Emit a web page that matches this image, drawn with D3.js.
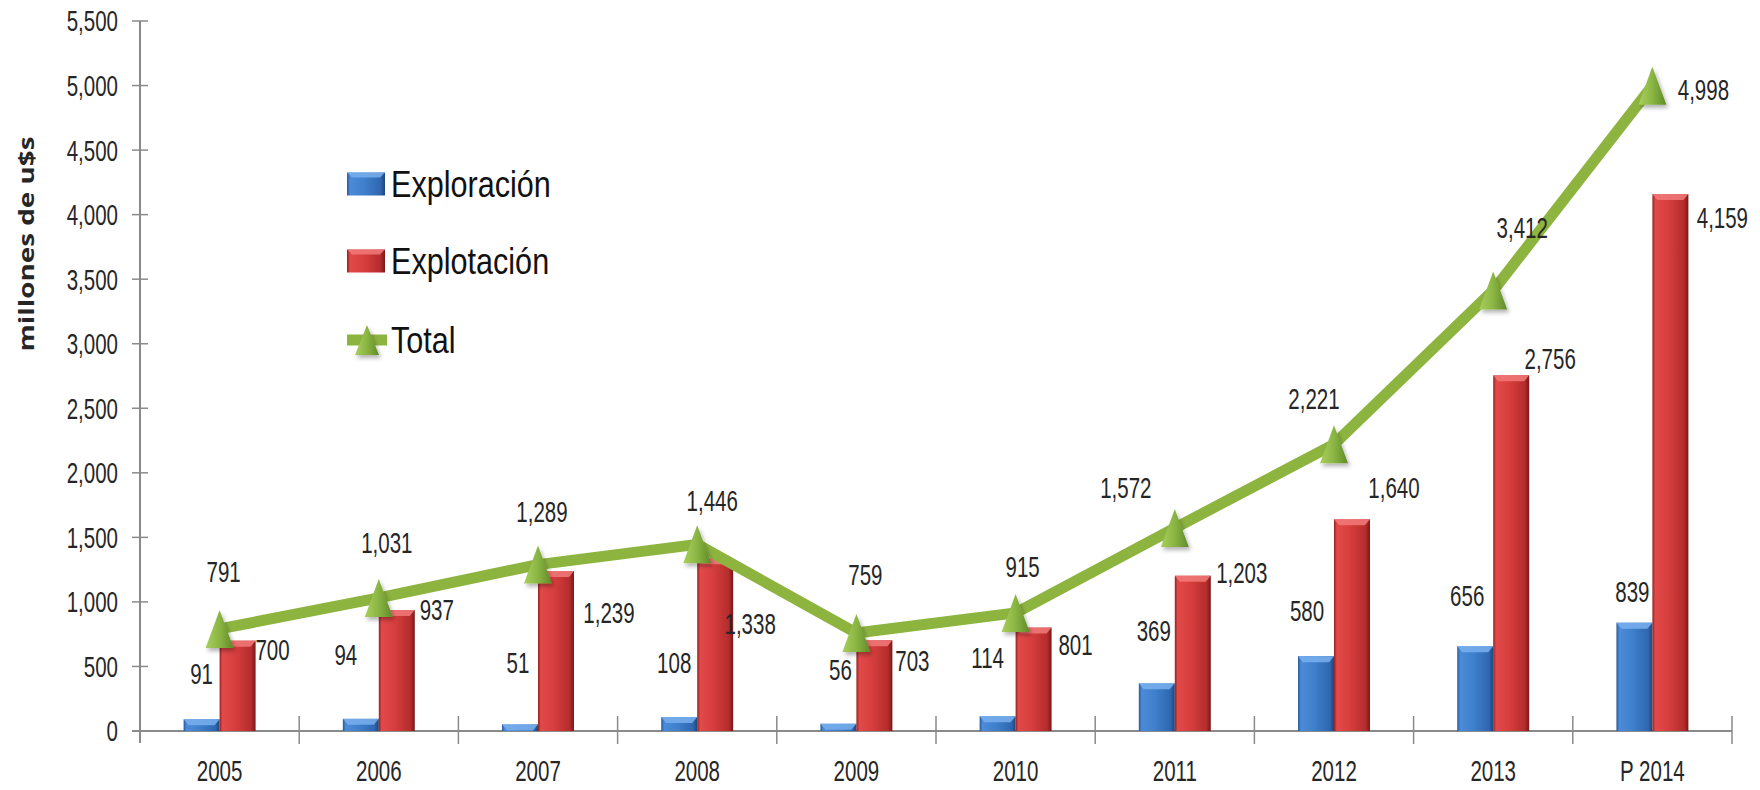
<!DOCTYPE html>
<html>
<head>
<meta charset="utf-8">
<script src="https://cdn.jsdelivr.net/npm/d3@7/dist/d3.min.js"></script>
<style>
  html, body { margin: 0; padding: 0; background: #ffffff; }
  svg { display: block; }
</style>
</head>
<body>
<svg id="chart" width="1760" height="790"></svg>
<script>
// Inversión en exploración y explotación (millones de u$s)
const categories  = ["2005", "2006", "2007", "2008", "2009", "2010", "2011", "2012", "2013", "P 2014"];
const exploracion = [91, 94, 51, 108, 56, 114, 369, 580, 656, 839];
const explotacion = [700, 937, 1239, 1338, 703, 801, 1203, 1640, 2756, 4159];
const total       = [791, 1031, 1289, 1446, 759, 915, 1572, 2221, 3412, 4998];
const yTickValues = [0, 500, 1000, 1500, 2000, 2500, 3000, 3500, 4000, 4500, 5000, 5500];
const seriesNames = ["Exploración", "Explotación", "Total"];

// hand-placed label offsets (px) from each mark's anchor
const blueLabelNudge  = [[0,-46],[-15,-64],[-2,-62],[-5,-55],[2,-54],[-10,-59],[-3,-53],[-9,-46],[-8,-51],[-2,-31]];
const redLabelNudge   = [[17,9],[22,0],[35,41],[17,65],[20,20],[24,17],[31,-3],[24,-32],[21,-17],[34,23]];
const totalLabelNudge = [[4,-57],[8,-55],[4,-53],[15,-44],[9,-58],[7,-46],[-49,-41],[-20,-46],[29,-63],[51,4]];

const fmt = d3.format(",");
const svg = d3.select("#chart");

const plot = { left: 140, right: 1732, top: 21, bottom: 731 };

const x0 = d3.scaleBand().domain(categories)
  .range([plot.left, plot.right]).paddingInner(0.548).paddingOuter(0.274);
const x1 = d3.scaleBand().domain(["exp", "xpl"]).range([0, x0.bandwidth()]);
const y = d3.scaleLinear().domain([0, 5500]).range([plot.bottom, plot.top]);
const center = c => x0(c) + x0.bandwidth() / 2;

// ---------- defs: gradients & shadow ----------
const defs = svg.append("defs");
function hGrad(id, stops) {
  const g = defs.append("linearGradient").attr("id", id).attr("x1", "0").attr("x2", "1").attr("y1", "0").attr("y2", "0");
  stops.forEach(([o, c]) => g.append("stop").attr("offset", o).attr("stop-color", c));
}
hGrad("gBlue", [[0, "#2a5896"], [0.08, "#4b8bd8"], [0.45, "#3f7fcc"], [0.88, "#2f67b0"], [1, "#1f4678"]]);
hGrad("gRed",  [[0, "#952020"], [0.08, "#e24a4a"], [0.45, "#d63d3d"], [0.88, "#b42c2c"], [1, "#781818"]]);
hGrad("gTri",  [[0, "#a9cf5c"], [0.5, "#8ab543"], [1, "#5f8a28"]]);
const sh = defs.append("filter").attr("id", "shadow").attr("x", "-50%").attr("y", "-50%").attr("width", "200%").attr("height", "200%");
sh.append("feDropShadow").attr("dx", 2).attr("dy", 3).attr("stdDeviation", 2).attr("flood-color", "#000").attr("flood-opacity", 0.3);

// text helper: Arial-metric face squeezed horizontally and stretched vertically
function label(parent, str, x, yy, o = {}) {
  const size = o.size || 25, sx = o.sx || 0.82, sy = o.sy || 1.16;
  const g = parent.append("g").attr("transform", `translate(${x},${yy}) scale(${sx},${sy})`);
  g.append("text")
    .attr("text-anchor", o.anchor || "middle")
    .attr("dy", o.dy == null ? "0.36em" : o.dy)
    .attr("font-family", "'Liberation Sans', Arial, sans-serif")
    .attr("font-size", size)
    .attr("fill", o.fill || "#262626")
    .text(str);
  return g;
}

// ---------- axes ----------
const axisColor = "#8a8a8a";
const axes = svg.append("g");
// y axis line (runs slightly past the baseline like a cross tick)
axes.append("line").attr("x1", plot.left).attr("x2", plot.left)
  .attr("y1", y(5500)).attr("y2", plot.bottom + 12)
  .attr("stroke", axisColor).attr("stroke-width", 2);
axes.selectAll(".yt").data(yTickValues).join("line")
  .attr("x1", plot.left - 8).attr("x2", plot.left + 8)
  .attr("y1", d => y(d)).attr("y2", d => y(d))
  .attr("stroke", axisColor).attr("stroke-width", 1.5);
yTickValues.forEach(v => label(axes, fmt(v), plot.left - 22, y(v), { anchor: "end" }));

// x axis line and cross ticks at category boundaries
axes.append("line").attr("x1", plot.left - 8).attr("x2", plot.right)
  .attr("y1", y(0)).attr("y2", y(0))
  .attr("stroke", axisColor).attr("stroke-width", 2);
const step = x0.step();
const bounds = d3.range(categories.length + 1).map(i => plot.left + i * step);
axes.selectAll(".xt").data(bounds.slice(1)).join("line")
  .attr("x1", d => d).attr("x2", d => d)
  .attr("y1", y(0) - 15).attr("y2", y(0) + 13)
  .attr("stroke", axisColor).attr("stroke-width", 1.5);
categories.forEach(c => label(axes, c, center(c), 771));

// y axis title
svg.append("text")
  .attr("transform", `translate(34,244) rotate(-90)`)
  .attr("text-anchor", "middle")
  .attr("font-family", "'Open Sans', 'DejaVu Sans', sans-serif")
  .attr("font-weight", "bold")
  .attr("font-size", 22)
  .attr("textLength", 215).attr("lengthAdjust", "spacingAndGlyphs")
  .attr("fill", "#262626")
  .text("millones de u$s");

// ---------- bars ----------
function bar(parent, bx, bw, v, fill, bevel) {
  const top = y(v), h = y(0) - top;
  parent.append("rect").attr("x", bx).attr("y", top).attr("width", bw).attr("height", h)
    .attr("fill", `url(#${fill})`);
  const b = Math.min(6, h);
  parent.append("path")
    .attr("d", `M${bx},${top}L${bx + bw},${top}L${bx + bw - 5},${top + b}L${bx + 5},${top + b}Z`)
    .attr("fill", bevel).attr("opacity", 0.85);
}
const bars = svg.append("g");
categories.forEach((c, i) => {
  bar(bars, x0(c) + x1("exp"), x1.bandwidth(), exploracion[i], "gBlue", "#79b0ee");
  bar(bars, x0(c) + x1("xpl"), x1.bandwidth(), explotacion[i], "gRed", "#f27a7a");
});

// ---------- total line ----------
const lineGen = d3.line().x((d, i) => center(categories[i])).y(d => y(d));
svg.append("path").datum(total).attr("d", lineGen)
  .attr("fill", "none").attr("stroke", "#8db43f").attr("stroke-width", 11)
  .attr("stroke-linejoin", "round");

const triPath = "M0,-19L14,19L-14,19Z";
svg.append("g").selectAll("path").data(total).join("path")
  .attr("transform", (d, i) => `translate(${center(categories[i])},${y(d)})`)
  .attr("d", triPath).attr("fill", "url(#gTri)").attr("filter", "url(#shadow)");

// ---------- data labels ----------
const labels = svg.append("g");
categories.forEach((c, i) => {
  const bx = x0(c) + x1("exp") + x1.bandwidth() / 2;
  const rx = x0(c) + x1("xpl") + x1.bandwidth();
  label(labels, fmt(exploracion[i]), bx + blueLabelNudge[i][0], y(exploracion[i]) + blueLabelNudge[i][1]);
  label(labels, fmt(explotacion[i]), rx + redLabelNudge[i][0], y(explotacion[i]) + redLabelNudge[i][1]);
  label(labels, fmt(total[i]), center(c) + totalLabelNudge[i][0], y(total[i]) + totalLabelNudge[i][1]);
});

// ---------- legend ----------
const legend = svg.append("g");
const legY = [184, 261, 340];
const sw = { x: 347, w: 38, h: 23 };
[["gBlue", "#79b0ee"], ["gRed", "#f27a7a"]].forEach(([g, bev], i) => {
  const top = legY[i] - sw.h / 2;
  legend.append("rect").attr("x", sw.x).attr("y", top).attr("width", sw.w).attr("height", sw.h).attr("fill", `url(#${g})`);
  legend.append("path")
    .attr("d", `M${sw.x},${top}L${sw.x + sw.w},${top}L${sw.x + sw.w - 5},${top + 5}L${sw.x + 5},${top + 5}Z`)
    .attr("fill", bev).attr("opacity", 0.85);
});
legend.append("line").attr("x1", sw.x).attr("x2", sw.x + sw.w + 2)
  .attr("y1", legY[2]).attr("y2", legY[2])
  .attr("stroke", "#8db43f").attr("stroke-width", 11);
legend.append("path").attr("transform", `translate(${sw.x + sw.w / 2 + 1},${legY[2]})`)
  .attr("d", "M0,-15L12,15L-12,15Z").attr("fill", "url(#gTri)").attr("filter", "url(#shadow)");
seriesNames.forEach((s, i) =>
  label(legend, s, 391, legY[i] + 13, { anchor: "start", dy: 0, size: 34, sx: 0.9, sy: 1.1, fill: "#111" }));
</script>
</body>
</html>
